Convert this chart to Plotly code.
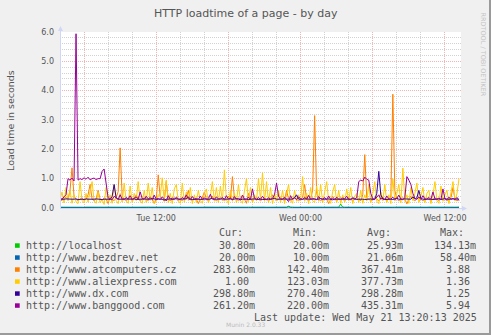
import plotly.graph_objects as go
import pandas as pd

# ---------------- data ----------------
START = "2025-05-20 04:00"
END = "2025-05-21 13:20"
times = pd.date_range(START, periods=200, freq="10min")

names = ["http://localhost", "http://www.bezdrev.net", "http://www.atcomputers.cz",
         "http://www.aliexpress.com", "http://www.dx.com", "http://www.banggood.com"]
colors = ["#00CC00", "#0066B3", "#FF8000", "#FFCC00", "#330099", "#990099"]

localhost = [
    0.026, 0.024, 0.028, 0.025, 0.027, 0.023, 0.026, 0.029, 0.025, 0.024, 0.027, 0.026, 0.022, 0.028, 0.025, 0.026, 0.024, 0.027, 0.025, 0.026,
    0.025, 0.027, 0.024, 0.026, 0.028, 0.025, 0.023, 0.026, 0.027, 0.025, 0.024, 0.026, 0.028, 0.025, 0.026, 0.024, 0.027, 0.025, 0.026, 0.023,
    0.027, 0.025, 0.026, 0.024, 0.028, 0.026, 0.025, 0.027, 0.024, 0.026, 0.025, 0.027, 0.026, 0.024, 0.028, 0.025, 0.026, 0.027, 0.025, 0.024,
    0.026, 0.028, 0.025, 0.026, 0.024, 0.027, 0.025, 0.026, 0.023, 0.027, 0.026, 0.025, 0.028, 0.024, 0.026, 0.025, 0.027, 0.026, 0.024, 0.025,
    0.027, 0.025, 0.026, 0.024, 0.028, 0.025, 0.026, 0.027, 0.024, 0.026, 0.025, 0.027, 0.026, 0.024, 0.025, 0.028, 0.026, 0.025, 0.027, 0.024,
    0.026, 0.025, 0.027, 0.024, 0.026, 0.028, 0.025, 0.026, 0.024, 0.027, 0.025, 0.026, 0.023, 0.027, 0.026, 0.025, 0.028, 0.024, 0.026, 0.025,
    0.025, 0.027, 0.024, 0.026, 0.028, 0.025, 0.026, 0.024, 0.027, 0.025, 0.026, 0.024, 0.028, 0.025, 0.026, 0.027, 0.024, 0.026, 0.025, 0.027,
    0.134, 0.030, 0.026, 0.024, 0.027, 0.025, 0.026, 0.028, 0.024, 0.026, 0.025, 0.027, 0.026, 0.024, 0.025, 0.028, 0.026, 0.025, 0.027, 0.024,
    0.026, 0.025, 0.027, 0.024, 0.026, 0.028, 0.025, 0.026, 0.024, 0.027, 0.025, 0.026, 0.023, 0.027, 0.026, 0.025, 0.028, 0.024, 0.026, 0.025,
    0.027, 0.025, 0.026, 0.024, 0.028, 0.026, 0.025, 0.027, 0.024, 0.026, 0.025, 0.027, 0.026, 0.024, 0.025, 0.028, 0.026, 0.025, 0.027, 0.031,
]

bezdrev = [
    0.020, 0.022, 0.019, 0.021, 0.023, 0.020, 0.018, 0.022, 0.021, 0.020, 0.022, 0.021, 0.019, 0.023, 0.020, 0.021, 0.022, 0.020, 0.019, 0.021,
    0.022, 0.020, 0.021, 0.019, 0.023, 0.021, 0.020, 0.022, 0.018, 0.021, 0.020, 0.022, 0.021, 0.019, 0.020, 0.023, 0.021, 0.020, 0.022, 0.021,
    0.021, 0.019, 0.022, 0.020, 0.021, 0.023, 0.020, 0.019, 0.021, 0.022, 0.020, 0.021, 0.019, 0.022, 0.020, 0.021, 0.023, 0.020, 0.021, 0.019,
    0.020, 0.022, 0.021, 0.019, 0.020, 0.022, 0.021, 0.020, 0.023, 0.021, 0.019, 0.020, 0.022, 0.021, 0.020, 0.019, 0.022, 0.021, 0.020, 0.022,
    0.021, 0.020, 0.022, 0.019, 0.021, 0.020, 0.023, 0.021, 0.020, 0.022, 0.019, 0.021, 0.020, 0.022, 0.021, 0.020, 0.019, 0.022, 0.021, 0.020,
    0.022, 0.021, 0.020, 0.019, 0.022, 0.021, 0.020, 0.023, 0.021, 0.020, 0.019, 0.022, 0.020, 0.021, 0.058, 0.022, 0.020, 0.021, 0.019, 0.022,
    0.020, 0.021, 0.022, 0.019, 0.021, 0.020, 0.022, 0.021, 0.010, 0.020, 0.022, 0.021, 0.019, 0.020, 0.022, 0.021, 0.020, 0.023, 0.021, 0.020,
    0.021, 0.022, 0.020, 0.019, 0.021, 0.022, 0.020, 0.021, 0.019, 0.022, 0.021, 0.020, 0.022, 0.019, 0.021, 0.020, 0.022, 0.021, 0.020, 0.019,
    0.022, 0.020, 0.021, 0.019, 0.022, 0.021, 0.020, 0.022, 0.021, 0.019, 0.020, 0.022, 0.021, 0.020, 0.019, 0.022, 0.021, 0.020, 0.022, 0.021,
    0.020, 0.022, 0.021, 0.019, 0.021, 0.020, 0.022, 0.021, 0.020, 0.019, 0.022, 0.021, 0.020, 0.022, 0.021, 0.019, 0.021, 0.020, 0.022, 0.020,
]

atcomputers = [
    0.30, 0.25, 0.40, 0.35, 0.30, 0.60, 1.37, 0.40, 0.30, 0.25, 0.30, 0.35, 0.25, 0.30, 0.45, 0.80, 0.30, 0.25, 0.30, 0.60,
    0.30, 0.25, 0.35, 0.30, 0.15, 0.40, 0.30, 0.25, 0.35, 0.55, 2.05, 0.40, 0.30, 0.25, 0.30, 0.35, 0.25, 0.30, 0.45, 0.30,
    0.25, 0.30, 0.35, 0.30, 0.25, 0.40, 0.30, 0.16, 0.30, 1.13, 0.35, 0.30, 0.25, 0.90, 0.30, 0.25, 0.30, 0.35, 0.30, 0.25,
    0.30, 0.25, 0.35, 0.30, 0.60, 0.30, 0.25, 0.35, 0.30, 0.15, 0.30, 0.35, 0.55, 0.30, 0.25, 0.30, 0.40, 0.30, 0.25, 0.30,
    0.35, 0.30, 0.25, 0.30, 0.40, 0.30, 1.07, 0.35, 0.30, 0.25, 0.30, 0.35, 0.30, 0.16, 0.50, 0.30, 0.25, 0.30, 0.35, 0.30,
    0.25, 0.30, 0.35, 0.30, 0.25, 0.30, 0.45, 0.30, 0.25, 0.30, 0.35, 0.30, 0.25, 0.60, 0.30, 0.25, 0.30, 0.35, 0.30, 0.25,
    0.30, 0.35, 0.80, 0.30, 0.25, 0.30, 0.60, 3.15, 0.50, 0.30, 0.25, 0.30, 0.35, 0.30, 0.15, 0.30, 0.40, 0.30, 0.25, 0.30,
    0.35, 0.30, 0.25, 0.30, 0.35, 0.30, 0.25, 0.30, 0.35, 0.30, 0.25, 0.45, 1.82, 0.35, 0.30, 0.25, 0.30, 0.35, 0.30, 0.25,
    0.30, 0.35, 0.30, 0.25, 0.30, 0.35, 3.88, 0.60, 0.30, 0.25, 0.30, 0.35, 0.30, 0.14, 0.30, 0.40, 0.30, 0.25, 0.30, 0.35,
    0.30, 0.25, 0.30, 0.35, 0.30, 0.25, 0.30, 0.35, 0.30, 0.25, 0.30, 0.35, 0.30, 0.25, 0.30, 0.35, 0.70, 0.30, 0.25, 0.28,
]

aliexpress = [
    0.25, 0.55, 0.17, 0.70, 0.24, 0.60, 0.16, 0.45, 0.21, 0.15, 0.90, 0.26, 0.17, 0.50, 0.20, 0.60, 0.90, 0.24, 0.16, 0.55,
    0.18, 0.30, 0.12, 0.70, 0.21, 0.45, 0.16, 0.80, 0.26, 0.15, 0.50, 0.20, 0.85, 0.24, 0.16, 0.75, 0.19, 0.50, 0.25, 0.90,
    0.24, 0.16, 0.60, 0.19, 0.85, 0.26, 0.70, 0.15, 0.23, 0.45, 0.40, 1.03, 0.22, 0.95, 0.18, 0.50, 0.15, 0.65, 0.80, 0.24,
    0.16, 0.85, 0.20, 0.55, 0.25, 0.70, 0.15, 0.45, 0.19, 0.60, 0.26, 0.16, 0.50, 0.65, 0.18, 0.40, 0.90, 0.23, 0.70, 0.19,
    0.75, 0.24, 1.30, 0.28, 0.15, 0.60, 0.23, 0.50, 0.18, 0.80, 0.25, 0.16, 0.55, 1.00, 0.22, 0.70, 0.18, 0.45, 0.24, 1.00,
    0.28, 1.20, 0.23, 0.90, 0.18, 0.70, 0.15, 0.50, 0.24, 0.60, 0.19, 0.60, 0.15, 0.45, 0.80, 0.25, 0.16, 0.60, 0.23, 0.45,
    0.24, 1.07, 0.23, 0.50, 0.15, 0.70, 0.24, 0.19, 0.75, 0.23, 0.80, 0.18, 0.50, 0.90, 0.25, 0.16, 0.55, 0.80, 0.19, 0.60,
    0.15, 0.45, 0.20, 0.65, 0.24, 0.70, 0.15, 0.40, 0.50, 0.19, 0.60, 0.16, 0.45, 0.24, 0.80, 0.18, 0.50, 0.90, 0.23, 0.15,
    0.55, 0.24, 0.80, 0.19, 0.45, 0.15, 1.00, 0.24, 0.50, 0.80, 0.18, 1.36, 0.23, 0.45, 0.16, 0.70, 0.25, 0.50, 0.85, 0.19,
    0.40, 0.70, 0.18, 0.50, 0.60, 0.15, 0.45, 0.90, 0.24, 0.16, 0.75, 0.23, 0.45, 0.60, 0.15, 0.50, 0.90, 0.24, 0.50, 1.00,
]

dx = [
    0.30, 0.29, 0.30, 0.31, 0.30, 0.29, 0.30, 0.30, 0.31, 0.29, 0.30, 0.30, 0.29, 0.31, 0.30, 0.30, 0.28, 0.30, 0.31, 0.30,
    0.30, 0.29, 0.30, 0.31, 0.30, 0.29, 0.40, 0.80, 0.35, 0.30, 0.29, 0.30, 0.31, 0.30, 0.29, 0.30, 0.30, 0.31, 0.29, 0.30,
    0.29, 0.30, 0.31, 0.30, 0.29, 0.30, 0.33, 0.30, 0.29, 0.30, 0.31, 0.30, 0.27, 0.30, 0.30, 0.31, 0.29, 0.30, 0.32, 0.30,
    0.30, 0.29, 0.30, 0.31, 0.38, 0.30, 0.29, 0.30, 0.31, 0.30, 0.29, 0.30, 0.30, 0.31, 0.29, 0.30, 0.33, 0.30, 0.29, 0.30,
    0.31, 0.30, 0.29, 0.30, 0.30, 0.31, 0.29, 0.30, 0.32, 0.30, 0.28, 0.30, 0.31, 0.30, 0.29, 0.30, 0.30, 0.31, 0.29, 0.30,
    0.30, 0.29, 0.30, 0.31, 0.30, 0.29, 0.30, 0.33, 0.30, 0.29, 0.30, 0.31, 0.30, 0.29, 0.30, 0.30, 0.31, 0.35, 0.45, 0.30,
    0.29, 0.30, 0.31, 0.30, 0.29, 0.30, 0.30, 0.31, 0.29, 0.30, 0.32, 0.30, 0.29, 0.30, 0.31, 0.30, 0.28, 0.30, 0.30, 0.31,
    0.29, 0.30, 0.30, 0.31, 0.29, 0.30, 0.32, 0.30, 0.29, 0.30, 0.31, 0.30, 0.29, 0.30, 0.30, 0.31, 0.29, 0.30, 0.50, 1.25,
    0.45, 0.30, 0.29, 0.30, 0.31, 0.30, 0.29, 0.30, 0.33, 0.30, 0.29, 0.30, 0.31, 0.30, 0.29, 0.30, 0.38, 0.30, 0.35, 0.60,
    0.32, 0.30, 0.29, 0.30, 0.31, 0.30, 0.29, 0.30, 0.30, 0.31, 0.29, 0.30, 0.32, 0.30, 0.29, 0.30, 0.31, 0.30, 0.29, 0.30,
]

banggood = [
    0.32, 0.30, 0.38, 0.45, 1.00, 0.95, 1.02, 0.92, 5.94, 0.95, 1.00, 0.97, 1.03, 0.98, 1.05, 0.96, 1.00, 1.02, 0.97, 1.00,
    1.00, 1.25, 1.33, 0.90, 0.35, 0.30, 0.28, 0.40, 0.33, 0.29, 0.45, 0.30, 0.28, 0.36, 0.31, 0.42, 0.29, 0.33, 0.38, 0.30,
    0.55, 0.32, 0.29, 0.40, 0.31, 0.35, 0.28, 0.44, 0.30, 0.33, 0.29, 0.38, 0.31, 0.24, 0.42, 0.30, 0.34, 0.29, 0.37, 0.31,
    0.29, 0.36, 0.30, 0.45, 0.31, 0.28, 0.39, 0.30, 0.33, 0.29, 0.41, 0.30, 0.35, 0.28, 0.32, 0.47, 0.30, 0.29, 0.38, 0.31,
    0.30, 0.36, 0.29, 0.42, 0.31, 0.34, 0.28, 0.39, 0.30, 0.33, 0.29, 0.44, 0.31, 0.30, 0.37, 0.29, 0.65, 0.33, 0.30, 0.36,
    0.29, 0.40, 0.31, 0.28, 0.35, 0.30, 0.33, 0.45, 0.85, 0.40, 0.30, 0.29, 0.37, 0.31, 0.22, 0.42, 0.30, 0.34, 0.29, 0.38,
    0.31, 0.29, 0.36, 0.30, 0.43, 0.29, 0.33, 0.30, 0.28, 0.39, 0.31, 0.30, 0.35, 0.29, 0.41, 0.30, 0.33, 0.28, 0.37, 0.30,
    0.29, 0.34, 0.31, 0.40, 0.30, 0.28, 0.36, 0.31, 0.35, 0.90, 0.95, 0.92, 1.05, 0.98, 0.95, 0.50, 0.31, 0.29, 0.36, 0.45,
    0.30, 0.35, 0.29, 0.41, 0.31, 0.30, 0.37, 0.29, 0.33, 0.44, 0.30, 0.28, 0.35, 1.07, 0.95, 0.80, 0.50, 0.33, 0.30, 0.38,
    0.29, 0.42, 0.31, 0.30, 0.36, 0.29, 0.55, 0.31, 0.30, 0.34, 0.29, 0.65, 0.31, 0.29, 0.37, 0.30, 0.33, 0.28, 0.36, 0.26,
]

series = [localhost, bezdrev, atcomputers, aliexpress, dx, banggood]

cur_vals = ["30.80m", "20.00m", "283.60m", "1.00", "298.80m", "261.20m"]
min_vals = ["20.00m", "10.00m", "142.40m", "123.03m", "270.40m", "220.00m"]
avg_vals = ["25.93m", "21.06m", "367.41m", "377.73m", "298.28m", "435.31m"]
max_vals = ["134.13m", "58.40m", "3.88", "1.36", "1.25", "5.94"]
headers = ["Cur:", "Min:", "Avg:", "Max:"]

x_tickvals = ["2025-05-20 06:00", "2025-05-20 12:00", "2025-05-20 18:00",
              "2025-05-21 00:00", "2025-05-21 06:00", "2025-05-21 12:00"]
x_ticktext = ["", "Tue 12:00", "", "Wed 00:00", "", "Wed 12:00"]
y_tickvals = [0, 1, 2, 3, 4, 5, 6]

# ---------------- layout helpers ----------------
W, H = 491, 335
PL, PR, PT, PB = 60, 461, 32, 208   # plot area in pixels


def px(x):
    return (x - PL) / (PR - PL)


def py(y):
    return (PB - y) / (PB - PT)


TXT = "#555555"
MONO = "DejaVu Sans Mono"
SANS = "DejaVu Sans"
MAJ = "#F2B4B4"
MIN = "#D2D2D2"

fig = go.Figure()
for name, vals, col in zip(names, series, colors):
    fig.add_trace(go.Scatter(x=times, y=vals, name=name, mode="lines",
                             line=dict(color=col, width=1), hoverinfo="skip"))

fig.update_layout(
    width=W, height=H, autosize=False,
    margin=dict(l=PL, r=W - PR, t=PT, b=H - PB, pad=0),
    paper_bgcolor="#F0F0F0", plot_bgcolor="#FFFFFF",
    showlegend=False,
    font=dict(family=SANS, size=8, color=TXT),
)

fig.update_xaxes(
    type="date", range=[START, END],
    tickmode="array", tickvals=x_tickvals, ticktext=x_ticktext,
    showgrid=True, gridcolor=MAJ, griddash="1px,1px", gridwidth=1,
    minor=dict(dtick=7200000, tick0="2025-05-20 00:00", showgrid=True,
               gridcolor=MIN, griddash="1px,1px", gridwidth=1),
    showline=False, zeroline=False, ticks="", ticklabelstandoff=4,
    tickfont=dict(family=SANS, size=8, color=TXT),
)
fig.update_yaxes(
    range=[0, 6], tickmode="array", tickvals=y_tickvals,
    ticktext=[f"{v:.1f}" for v in y_tickvals],
    showgrid=True, gridcolor=MAJ, griddash="1px,1px", gridwidth=1,
    minor=dict(dtick=0.2, showgrid=True, gridcolor=MIN,
               griddash="1px,1px", gridwidth=1),
    showline=False, zeroline=False, ticks="", ticklabelstandoff=5,
    tickfont=dict(family=SANS, size=8, color=TXT),
)

shapes = []
AX = "#CFD6F8"
# axes lines and arrows
shapes.append(dict(type="line", xref="paper", yref="paper", x0=px(60.5), x1=px(60.5),
                   y0=py(208), y1=py(29), line=dict(color=AX, width=1)))
shapes.append(dict(type="line", xref="paper", yref="paper", x0=px(60), x1=px(464),
                   y0=py(208.5), y1=py(208.5), line=dict(color=AX, width=1)))
shapes.append(dict(type="path", xref="paper", yref="paper",
                   path=f"M {px(58)} {py(31)} L {px(63)} {py(31)} L {px(60.5)} {py(26)} Z",
                   fillcolor=AX, line=dict(width=0)))
shapes.append(dict(type="path", xref="paper", yref="paper",
                   path=f"M {px(462)} {py(206)} L {px(462)} {py(211)} L {px(467)} {py(208.5)} Z",
                   fillcolor=AX, line=dict(width=0)))
# frame shade (right / bottom)
shapes.append(dict(type="rect", xref="paper", yref="paper", x0=px(489), x1=px(491),
                   y0=py(335), y1=py(0), fillcolor="#9A9A9A", line=dict(width=0), layer="above"))
shapes.append(dict(type="rect", xref="paper", yref="paper", x0=px(0), x1=px(491),
                   y0=py(335), y1=py(333), fillcolor="#9A9A9A", line=dict(width=0), layer="above"))

annotations = []


def text(x, y, s, size, color=TXT, family=MONO, xanchor="left", angle=0):
    annotations.append(dict(xref="paper", yref="paper", x=px(x), y=py(y), text=s,
                            showarrow=False, xanchor=xanchor, yanchor="middle",
                            font=dict(family=family, size=size, color=color),
                            borderpad=0, borderwidth=0, textangle=angle))


def field(s):
    s = s if s[-1].isalpha() else s + " "
    return s.rjust(7).replace(" ", "\u00a0")


# title, axis title, watermark
text(245.5, 14, "HTTP loadtime of a page - by day", 11, family=SANS, xanchor="center")
text(11, 121, "Load time in seconds", 9.5, family=SANS, xanchor="center", angle=-90)
text(482.5, 54, "RRDTOOL / TOBI OETIKER", 6.5, color="#C4C4C4", family=SANS,
     xanchor="center", angle=90)

# legend
col_start = [213.4, 287.4, 360.9, 434.4]
for c, h in zip(col_start, headers):
    text(c, 232.5, "\u00a0" + h, 10)
row_y = [245.5, 257.5, 269.5, 281.5, 293.5, 305.5]
for i, (nm, col) in enumerate(zip(names, colors)):
    yy = row_y[i]
    shapes.append(dict(type="rect", xref="paper", yref="paper",
                       x0=px(15), x1=px(19.7), y0=py(yy + 2.3), y1=py(yy - 2.2),
                       fillcolor=col, line=dict(width=0)))
    text(26, yy, nm, 10)
    for c, vals in zip(col_start, [cur_vals, min_vals, avg_vals, max_vals]):
        text(c, yy, field(vals[i]), 10)

text(476.5, 317, "Last update: Wed May 21 13:20:13 2025", 10, xanchor="right")
text(245, 324, "Munin 2.0.33", 6, color="#BBBBBB", family=SANS, xanchor="center")

fig.update_layout(shapes=shapes, annotations=annotations)
fig.write_html("out.html")
